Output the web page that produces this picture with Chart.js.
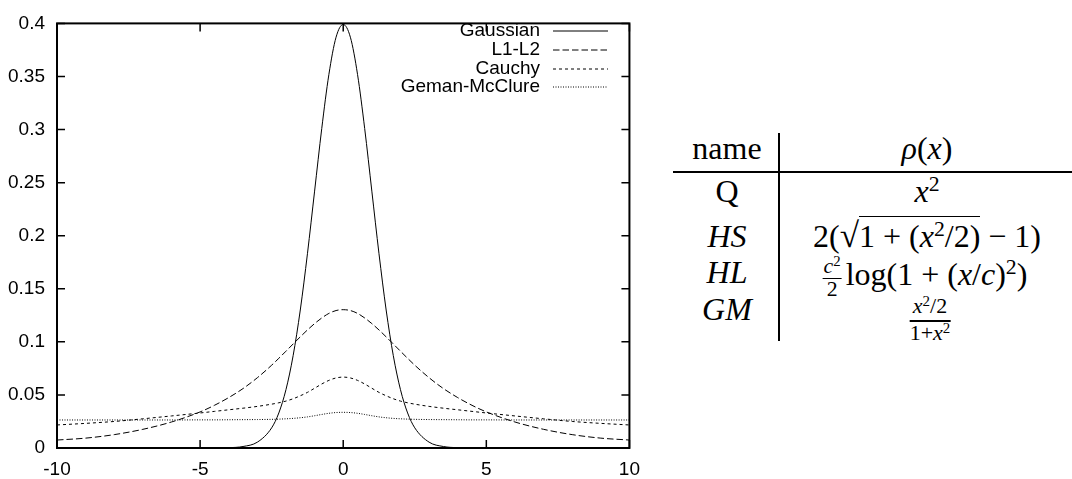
<!DOCTYPE html>
<html>
<head>
<meta charset="utf-8">
<script src="https://cdn.jsdelivr.net/npm/chart.js@4.4.1/dist/chart.umd.min.js"></script>
<style>
  html, body { margin: 0; padding: 0; background: #fff; }
  body { width: 1072px; height: 479px; position: relative; overflow: hidden; }
  #plot { position: absolute; left: 0; top: 0; }
  .cell {
    position: absolute;
    font-family: "Liberation Serif", "Times New Roman", serif;
    font-size: 32px;
    line-height: 32px;
    white-space: nowrap;
    transform: translateX(-50%);
    color: #000;
  }
  .sup { font-size: 0.68em; position: relative; top: -0.5em; }
  .rad { font-size: 1.1em; }
  .ov { border-top: 1.5px solid #000; padding-top: 1px; }
  .frac {
    display: inline-flex;
    flex-direction: column;
    align-items: center;
    font-size: 0.68em;
    line-height: 1;
    vertical-align: 12px;
    margin-right: 4px;
  }
  .frac .num { border-bottom: 1.5px solid #000; padding: 0 1px; }
  .bigfrac {
    position: absolute;
    left: 930px;
    top: 295px;
    transform: translateX(-50%);
    font-family: "Liberation Serif", "Times New Roman", serif;
    font-size: 22px;
    line-height: 22px;
    text-align: center;
  }
  .bigfrac .num { border-bottom: 2px solid #000; padding: 0 2px 1px; }
  .hline { position: absolute; left: 673px; top: 171px; width: 399px; height: 2px; background: #000; }
  .vline { position: absolute; left: 778px; top: 133px; width: 2px; height: 208px; background: #000; }
</style>
</head>
<body>
<canvas id="plot" width="650" height="479"></canvas>

<div class="hline"></div>
<div class="vline"></div>
<div class="cell" style="left:727px; top:132px;">name</div>
<div class="cell" style="left:927px; top:132px;"><i>ρ</i>(<i>x</i>)</div>
<div class="cell" style="left:727px; top:175px;">Q</div>
<div class="cell" style="left:927px; top:175px;"><i>x</i><span class="sup">2</span></div>
<div class="cell" style="left:727px; top:220px;"><i>HS</i></div>
<div class="cell" style="left:927px; top:220px;">2(<span class="rad">√</span><span class="ov">1 + (<i>x</i><span class="sup">2</span>/2)</span> − 1)</div>
<div class="cell" style="left:727px; top:256px;"><i>HL</i></div>
<div class="cell" style="left:925px; top:256px;"><span class="frac"><span class="num"><i>c</i><span class="sup">2</span></span><span class="den">2</span></span>log(1 + (<i>x</i>/<i>c</i>)<span class="sup">2</span>)</div>
<div class="cell" style="left:727px; top:293px;"><i>GM</i></div>
<div class="bigfrac"><div class="num"><i>x</i><span class="sup">2</span>/2</div><div class="den">1+<i>x</i><span class="sup">2</span></div></div>

<script>
// sample positions along x
const xs = [-10, -9, -8, -7, -6, -5, -4.5, -4, -3.5, -3, -2.5, -2.25, -2, -1.75, -1.5, -1.25, -1, -0.75, -0.5, -0.25,
  0, 0.25, 0.5, 0.75, 1, 1.25, 1.5, 1.75, 2, 2.25, 2.5, 3, 3.5, 4, 4.5, 5, 6, 7, 8, 9, 10];

const gaussian = [0, 0, 0, 0, 0, 0, 0.0001, 0.0003, 0.0014, 0.0055, 0.019, 0.033, 0.055, 0.087, 0.13, 0.183, 0.242, 0.301, 0.352, 0.387,
  0.399, 0.387, 0.352, 0.301, 0.242, 0.183, 0.13, 0.087, 0.055, 0.033, 0.019, 0.0055, 0.0014, 0.0003, 0.0001, 0, 0, 0, 0, 0, 0];

const l1l2 = [0.0075, 0.0093, 0.0126, 0.0176, 0.0245, 0.034, 0.0402, 0.0475, 0.056, 0.0662, 0.078, 0.0845, 0.0912, 0.098, 0.1047, 0.1112, 0.1172, 0.1225, 0.1268, 0.1295,
  0.1303, 0.1295, 0.1268, 0.1225, 0.1172, 0.1112, 0.1047, 0.098, 0.0912, 0.0845, 0.078, 0.0662, 0.056, 0.0475, 0.0402, 0.034, 0.0245, 0.0176, 0.0126, 0.0093, 0.0075];

const cauchy = [0.0217, 0.0232, 0.025, 0.0275, 0.0302, 0.033, 0.0345, 0.036, 0.0375, 0.0392, 0.0413, 0.0426, 0.0442, 0.0464, 0.0492, 0.0524, 0.0563, 0.0603, 0.0637, 0.066,
  0.0668, 0.066, 0.0637, 0.0603, 0.0563, 0.0524, 0.0492, 0.0464, 0.0442, 0.0426, 0.0413, 0.0392, 0.0375, 0.036, 0.0345, 0.033, 0.0302, 0.0275, 0.025, 0.0232, 0.0217];

const gemanMcClure = [0.0264, 0.0264, 0.0264, 0.0264, 0.0264, 0.0265, 0.0265, 0.0266, 0.0267, 0.0268, 0.027, 0.0272, 0.0275, 0.0279, 0.0285, 0.0293, 0.0304, 0.0316, 0.0327, 0.0334,
  0.0336, 0.0334, 0.0327, 0.0316, 0.0304, 0.0293, 0.0285, 0.0279, 0.0275, 0.0272, 0.027, 0.0268, 0.0267, 0.0266, 0.0265, 0.0265, 0.0264, 0.0264, 0.0264, 0.0264, 0.0264];

const seriesNames = ['Gaussian', 'L1-L2', 'Cauchy', 'Geman-McClure'];
const seriesValues = [gaussian, l1l2, cauchy, gemanMcClure];
const seriesDashes = [[], [6.5, 3], [3, 3], [1, 1.5]];

const FONT = '"Liberation Sans", Arial, Helvetica, sans-serif';

function toPoints(values) {
  return xs.map((x, i) => ({ x: x, y: values[i] }));
}

// box with inward ticks on all four sides, like gnuplot
const frameTicks = {
  id: 'frameTicks',
  afterDatasetsDraw(chart) {
    const { ctx, chartArea: a, scales } = chart;
    const len = 8;
    ctx.save();
    ctx.strokeStyle = '#000';
    ctx.lineWidth = 1.5;
    ctx.beginPath();
    scales.x.ticks.forEach((t) => {
      const px = scales.x.getPixelForValue(t.value);
      ctx.moveTo(px, a.bottom);
      ctx.lineTo(px, a.bottom - len);
      ctx.moveTo(px, a.top);
      ctx.lineTo(px, a.top + len);
    });
    scales.y.ticks.forEach((t) => {
      const py = scales.y.getPixelForValue(t.value);
      ctx.moveTo(a.left, py);
      ctx.lineTo(a.left + len, py);
      ctx.moveTo(a.right, py);
      ctx.lineTo(a.right - len, py);
    });
    ctx.stroke();
    ctx.lineWidth = 2;
    ctx.strokeRect(a.left, a.top, a.right - a.left, a.bottom - a.top);
    ctx.restore();
  },
};

// key in the top right corner: label text then line sample
const keyBox = {
  id: 'keyBox',
  afterDraw(chart) {
    const { ctx } = chart;
    const textRight = 540;
    const lineStart = 553;
    const lineEnd = 608;
    const rows = [31, 50, 69, 87];
    ctx.save();
    ctx.font = '19px ' + FONT;
    ctx.fillStyle = '#000';
    ctx.textAlign = 'right';
    ctx.textBaseline = 'middle';
    chart.data.datasets.forEach((ds, i) => {
      ctx.fillText(ds.label, textRight, rows[i]);
      ctx.beginPath();
      ctx.setLineDash(ds.borderDash);
      ctx.strokeStyle = '#000';
      ctx.lineWidth = 1;
      ctx.moveTo(lineStart, rows[i]);
      ctx.lineTo(lineEnd, rows[i]);
      ctx.stroke();
    });
    ctx.restore();
  },
};

new Chart(document.getElementById('plot'), {
  type: 'line',
  data: {
    datasets: seriesNames.map((name, i) => ({
      label: name,
      data: toPoints(seriesValues[i]),
      borderColor: '#000',
      borderWidth: 1,
      borderDash: seriesDashes[i],
      pointRadius: 0,
      fill: false,
      cubicInterpolationMode: 'monotone',
    })),
  },
  options: {
    responsive: false,
    animation: false,
    layout: { padding: { top: 11, right: 19, left: 0, bottom: 0 } },
    plugins: {
      legend: { display: false },
      tooltip: { enabled: false },
    },
    scales: {
      x: {
        type: 'linear',
        min: -10,
        max: 10,
        grid: { display: false, drawTicks: false },
        border: { display: false },
        ticks: {
          stepSize: 5,
          color: '#000',
          padding: 10,
          maxRotation: 0,
          autoSkip: false,
          font: { family: FONT, size: 19 },
        },
        afterFit(scale) { scale.height = 31; },
      },
      y: {
        min: 0,
        max: 0.4,
        grid: { display: false, drawTicks: false },
        border: { display: false },
        ticks: {
          stepSize: 0.05,
          color: '#000',
          padding: 12,
          font: { family: FONT, size: 19 },
          callback: (v) => String(Number(v.toFixed(2))),
        },
        afterFit(scale) { scale.width = 57; },
      },
    },
  },
  plugins: [frameTicks, keyBox],
});
</script>
</body>
</html>
